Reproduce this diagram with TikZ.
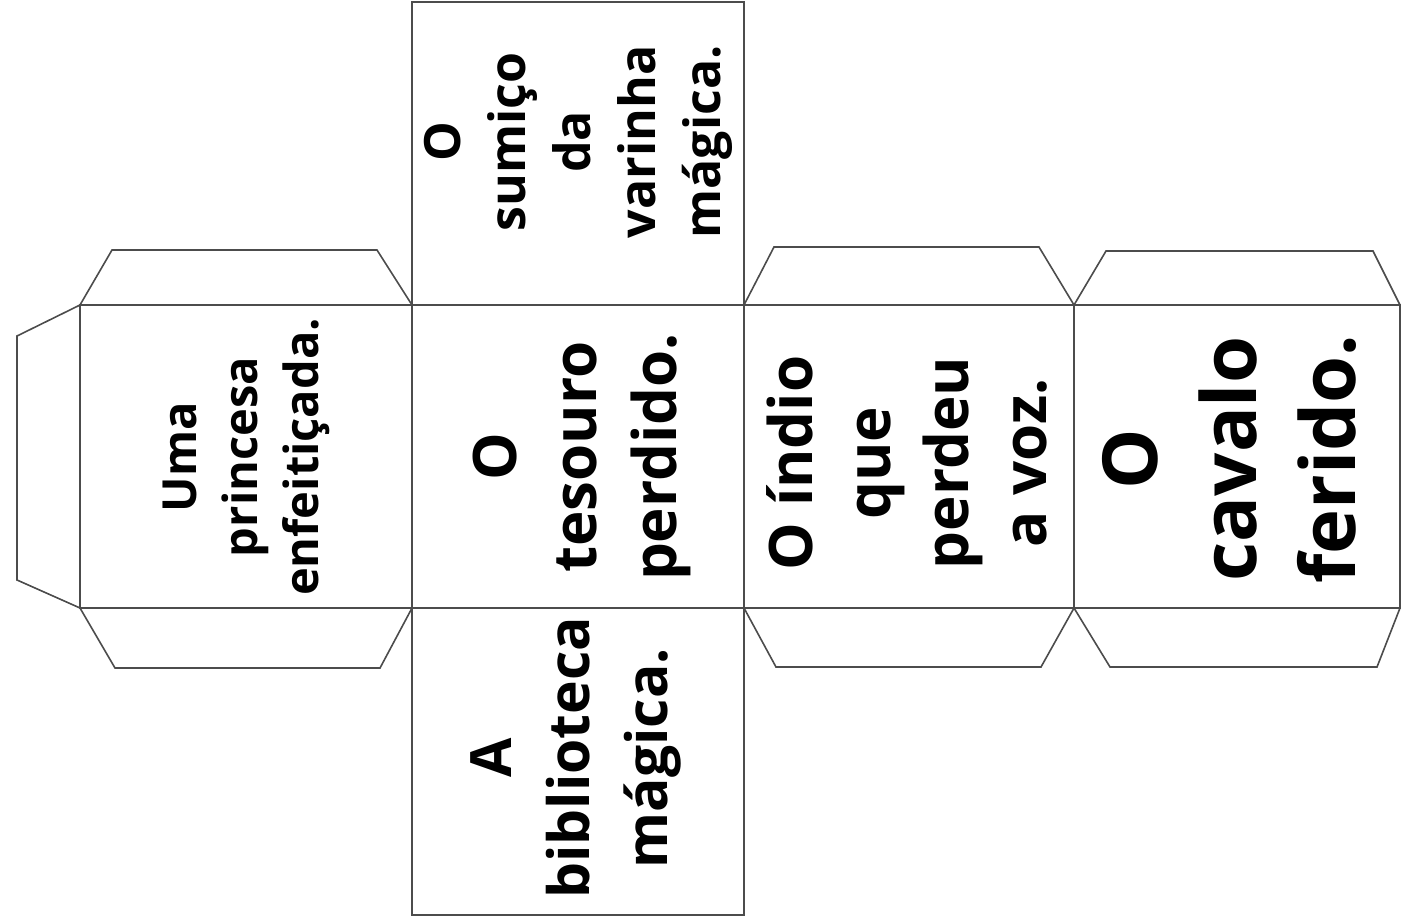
\documentclass[tikz,border=0pt]{standalone}
\usepackage{fontspec}
\setmainfont{Open Sans}
\tikzset{
  face/.style={draw=black!70, line width=1.6pt},
  flap/.style={draw=black!70, line width=1.6pt, line join=miter},
  facetext/.style={rotate=90, align=center, inner sep=0pt},
}
\begin{document}
\begin{tikzpicture}[x=1pt,y=-1pt]
            \useasboundingbox (0,0) rectangle (1403,919);
            \draw [face] (412,2) rectangle (744,305);
            \draw [face] (80,305) rectangle (1400,608);
            \draw [face] (412,305) -- (412,608);
            \draw [face] (744,305) -- (744,608);
            \draw [face] (1074,305) -- (1074,608);
            \draw [face] (412,608) rectangle (744,915);
            \draw [flap] (80,305) -- (17,336) -- (17,580) -- (80,608);
            \draw [flap] (80,305) -- (112,250) -- (377,250) -- (412,305);
            \draw [flap] (80,608) -- (115,668) -- (380,668) -- (412,608);
            \draw [flap] (744,305) -- (774,247) -- (1039,247) -- (1074,305);
            \draw [flap] (744,608) -- (776,667) -- (1041,667) -- (1074,608);
            \draw [flap] (1074,305) -- (1106,251) -- (1373,251) -- (1400,305);
            \draw [flap] (1074,608) -- (1110,667) -- (1377,667) -- (1400,608);
            \node (princesa) at (246,457) [facetext, font=\bfseries\fontsize{47}{61}\selectfont] {Uma\\princesa\\enfeitiçada.};
            \node (tesouro) at (582,457) [facetext, font=\bfseries\fontsize{60}{80}\selectfont] {O\\tesouro\\perdido.};
            \node (varinha) at (578,142) [facetext, font=\bfseries\fontsize{50}{65}\selectfont] {O\\sumiço\\da\\varinha\\mágica.};
            \node (biblioteca) at (576,758) [facetext, font=\bfseries\fontsize{57}{78}\selectfont] {A\\biblioteca\\mágica.};
            \node (indio) at (907,463) [facetext, font=\bfseries\fontsize{60}{78}\selectfont] {O índio\\que\\perdeu\\a voz.};
            \node (cavalo) at (1229,459) [facetext, font=\bfseries\fontsize{76}{99}\selectfont] {O\\cavalo\\ferido.};
        \end{tikzpicture}
\end{document}
